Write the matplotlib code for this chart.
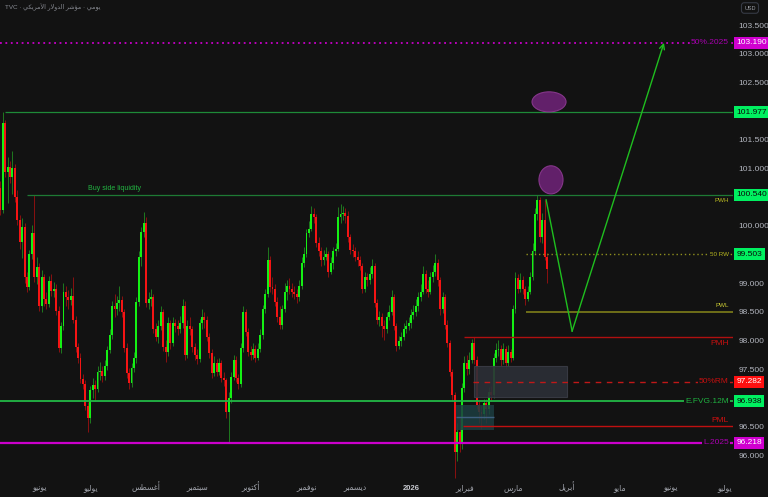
import numpy as np
import pandas as pd
import matplotlib
matplotlib.use("Agg")
import matplotlib.pyplot as plt
from matplotlib.patches import Rectangle, Ellipse
from matplotlib.transforms import blended_transform_factory

plt.rcParams['font.family'] = ['Liberation Sans', 'DejaVu Sans']

# ---- daily DXY candles, first bar = 2025-05-09 ----
first_open = 100.66
closes = [
    100.27, 101.79, 100.94, 101.03, 100.85, 101.00, 100.50, 100.10, 99.72, 99.98,
    99.10, 98.93, 99.50, 99.88, 99.10, 99.28, 98.60, 99.10, 98.72, 98.64,
    99.04, 98.86, 98.90, 98.52, 97.87, 98.25, 98.85, 98.75, 98.70, 98.78,
    98.35, 97.88, 97.70, 97.32, 97.23, 96.85, 96.65, 97.13, 97.22, 97.15,
    97.45, 97.47, 97.38, 97.55, 97.83, 98.09, 98.60, 98.55, 98.65, 98.70,
    98.50, 97.87, 97.43, 97.26, 97.52, 97.69, 98.67, 99.45, 99.89, 100.05,
    98.65, 98.72, 98.75, 98.20, 98.06, 98.25, 98.50, 97.88, 97.80, 98.30,
    97.95, 98.30, 98.25, 98.20, 98.30, 98.60, 97.75, 98.25, 98.20, 97.88,
    97.75, 97.68, 98.30, 98.40, 98.35, 98.05, 97.78, 97.43, 97.60, 97.45,
    97.60, 97.35, 97.30, 96.75, 97.00, 97.36, 97.65, 97.35, 97.23, 97.87,
    98.50, 98.15, 97.80, 97.75, 97.85, 97.70, 97.85, 98.10, 98.55, 98.80,
    99.40, 98.93, 98.90, 98.67, 98.40, 98.27, 98.55, 98.85, 98.95, 98.90,
    98.85, 98.80, 98.75, 98.95, 99.35, 99.50, 99.87, 99.95, 100.20, 100.15,
    99.70, 99.55, 99.40, 99.45, 99.50, 99.20, 99.35, 99.55, 99.60, 100.15,
    100.20, 100.22, 100.17, 99.80, 99.58, 99.55, 99.45, 99.40, 99.30, 98.90,
    99.10, 99.05, 99.15, 99.30, 98.65, 98.35, 98.40, 98.25, 98.20, 98.40,
    98.50, 98.75, 98.25, 97.90, 97.98, 98.06, 98.20, 98.25, 98.30, 98.45,
    98.50, 98.60, 98.75, 98.85, 99.15, 98.90, 98.85, 99.10, 99.20, 99.35,
    99.05, 98.55, 98.75, 98.27, 97.95, 97.45, 97.05, 96.05, 96.40, 96.20,
    97.17, 97.60, 97.50, 97.66, 97.95, 97.66, 96.87, 96.75, 96.72, 96.90,
    96.80, 97.10, 97.05, 97.70, 97.83, 97.85, 97.65, 97.85, 97.60, 97.80,
    97.70, 98.55, 99.08, 98.90, 99.05, 98.90, 98.72, 98.85, 99.10, 99.55,
    100.20, 100.45, 99.80, 100.10, 99.45, 99.25,
]
highs = [
    100.78, 101.98, 101.85, 101.20, 101.12, 101.30, 101.08, 100.62, 100.18, 100.13,
    100.05, 99.20, 99.58, 100.02, 100.54, 99.45, 99.35, 99.22, 99.15, 98.85,
    99.12, 99.15, 99.02, 98.98, 98.60, 98.32, 99.00, 98.95, 98.88, 98.92,
    99.10, 98.42, 97.95, 97.78, 97.42, 97.30, 96.92, 97.20, 97.35, 97.30,
    97.55, 97.62, 97.55, 97.65, 97.90, 98.20, 98.68, 98.80, 98.78, 98.95,
    98.78, 98.55, 97.95, 97.52, 97.60, 97.80, 98.75, 99.55, 99.98, 100.24,
    100.15, 98.85, 98.90, 98.80, 98.30, 98.35, 98.60, 98.55, 98.00, 98.40,
    98.35, 98.40, 98.38, 98.35, 98.42, 98.72, 98.68, 98.35, 98.40, 98.25,
    97.95, 97.85, 98.38, 98.55, 98.50, 98.42, 98.12, 97.85, 97.72, 97.68,
    97.70, 97.65, 97.45, 97.35, 97.10, 97.45, 97.75, 97.72, 97.42, 97.95,
    98.60, 98.55, 98.22, 97.90, 97.95, 97.92, 97.95, 98.20, 98.62, 98.90,
    99.62, 99.48, 99.10, 98.98, 98.75, 98.60, 98.62, 99.00, 99.05, 99.08,
    99.00, 98.95, 98.90, 99.05, 99.45, 99.62, 99.95, 100.08, 100.35, 100.30,
    100.20, 99.80, 99.62, 99.58, 99.62, 99.55, 99.45, 99.62, 99.70, 100.32,
    100.38, 100.35, 100.30, 100.25, 99.85, 99.68, 99.62, 99.55, 99.48, 99.35,
    99.20, 99.18, 99.28, 99.42, 99.35, 98.72, 98.52, 98.48, 98.35, 98.50,
    98.62, 98.88, 98.80, 98.30, 98.08, 98.15, 98.30, 98.35, 98.40, 98.55,
    98.62, 98.72, 98.85, 98.98, 99.30, 99.22, 99.05, 99.20, 99.32, 99.50,
    99.42, 99.10, 98.85, 98.80, 98.35, 98.00, 97.50, 97.10, 96.55, 96.65,
    97.25, 97.72, 97.75, 97.80, 98.02, 98.05, 97.72, 96.95, 96.85, 96.98,
    96.98, 97.18, 97.20, 97.78, 97.95, 98.00, 97.92, 97.95, 97.90, 97.92,
    97.85, 98.62, 99.20, 99.15, 99.18, 99.12, 98.95, 98.95, 99.20, 99.70,
    100.30, 100.54, 100.50, 100.22, 100.45, 99.52,
]
lows = [
    100.18, 100.22, 100.85, 100.40, 100.74, 100.55, 100.42, 100.02, 99.60, 99.44,
    99.00, 98.85, 98.88, 99.42, 99.02, 98.98, 98.52, 98.50, 98.60, 98.55,
    98.58, 98.78, 98.75, 98.45, 97.80, 97.78, 98.18, 98.60, 98.55, 98.62,
    98.30, 97.80, 97.60, 97.25, 97.15, 96.78, 96.40, 96.55, 97.00, 96.95,
    97.10, 97.30, 97.28, 97.30, 97.48, 97.78, 98.02, 98.40, 98.45, 98.52,
    98.40, 97.80, 97.35, 97.15, 97.18, 97.45, 97.60, 98.60, 99.30, 99.80,
    98.58, 98.55, 98.60, 98.12, 97.98, 97.95, 98.18, 97.82, 97.62, 97.72,
    97.85, 97.90, 98.15, 98.10, 98.12, 98.22, 97.65, 97.70, 98.10, 97.80,
    97.65, 97.58, 97.62, 98.20, 98.22, 97.98, 97.70, 97.35, 97.38, 97.38,
    97.40, 97.28, 97.20, 96.65, 96.22, 96.90, 97.30, 97.28, 97.15, 97.18,
    97.80, 98.08, 97.72, 97.65, 97.68, 97.62, 97.65, 97.80, 98.02, 98.48,
    98.75, 98.85, 98.80, 98.60, 98.32, 98.20, 98.20, 98.50, 98.70, 98.80,
    98.75, 98.72, 98.65, 98.68, 98.90, 99.28, 99.45, 99.80, 99.90, 100.05,
    99.62, 99.48, 99.30, 99.32, 99.40, 99.10, 99.15, 99.25, 99.48, 99.55,
    100.05, 100.10, 100.05, 99.72, 99.50, 99.45, 99.38, 99.30, 99.22, 98.82,
    98.85, 98.95, 98.98, 99.08, 98.58, 98.28, 98.25, 98.05, 98.00, 98.12,
    98.35, 98.45, 98.18, 97.82, 97.85, 97.90, 98.00, 98.12, 98.18, 98.22,
    98.38, 98.42, 98.52, 98.68, 98.80, 98.82, 98.75, 98.80, 99.02, 99.12,
    98.95, 98.45, 98.48, 98.20, 97.88, 97.38, 96.95, 95.60, 95.90, 96.05,
    96.10, 97.10, 97.40, 97.42, 97.60, 97.58, 96.80, 96.55, 96.45, 96.62,
    96.55, 96.72, 96.95, 97.00, 97.62, 97.72, 97.55, 97.58, 97.50, 97.55,
    97.62, 97.65, 98.48, 98.82, 98.85, 98.80, 98.62, 98.68, 98.80, 99.05,
    99.50, 100.10, 99.72, 99.70, 99.40, 99.00,
]

# key levels
levels_price = [103.190, 101.977, 100.540, 99.503, 98.50, 98.05, 97.282, 96.938, 96.50, 96.218]
levels_label = ["50%.2025", "", "PWH", "50 RW", "PWL", "PMH", "50%RM", "E.FVG.12M", "PML", "L.2025"]
badge_prices = [103.190, 101.977, 100.540, 99.503, 97.282, 96.938, 96.218]

month_names = {2: "فبراير", 3: "مارس", 4: "أبريل", 5: "مايو", 6: "يونيو",
               7: "يوليو", 8: "أغسطس", 9: "سبتمبر", 10: "أكتوبر", 11: "نوفمبر", 12: "ديسمبر"}

# projected path of the trade idea (bar index, price)
plan_x = [224.6, 235.3, 273.1]
plan_y = [100.45, 98.16, 103.19]

# ---- tiny arabic shaper (matplotlib has no shaping) ----
FORMS = {
    'ا': ('\uFE8D', '\uFE8E', None, None), 'أ': ('\uFE83', '\uFE84', None, None),
    'ؤ': ('\uFE85', '\uFE86', None, None), 'د': ('\uFEA9', '\uFEAA', None, None),
    'ر': ('\uFEAD', '\uFEAE', None, None), 'و': ('\uFEED', '\uFEEE', None, None),
    'ب': ('\uFE8F', '\uFE90', '\uFE91', '\uFE92'), 'ت': ('\uFE95', '\uFE96', '\uFE97', '\uFE98'),
    'س': ('\uFEB1', '\uFEB2', '\uFEB3', '\uFEB4'), 'ش': ('\uFEB5', '\uFEB6', '\uFEB7', '\uFEB8'),
    'ط': ('\uFEC1', '\uFEC2', '\uFEC3', '\uFEC4'), 'غ': ('\uFECD', '\uFECE', '\uFECF', '\uFED0'),
    'ف': ('\uFED1', '\uFED2', '\uFED3', '\uFED4'), 'ك': ('\uFED9', '\uFEDA', '\uFEDB', '\uFEDC'),
    'ل': ('\uFEDD', '\uFEDE', '\uFEDF', '\uFEE0'), 'م': ('\uFEE1', '\uFEE2', '\uFEE3', '\uFEE4'),
    'ن': ('\uFEE5', '\uFEE6', '\uFEE7', '\uFEE8'), 'ي': ('\uFEF1', '\uFEF2', '\uFEF3', '\uFEF4'),
}
LAM_ALEF = {'ا': ('\uFEFB', '\uFEFC'), 'أ': ('\uFEF7', '\uFEF8')}


def shape(text):
    out = []
    prev = False
    i = 0
    while i < len(text):
        ch = text[i]
        if ch not in FORMS:
            out.append(ch)
            prev = False
            i += 1
            continue
        if ch == 'ل' and i + 1 < len(text) and text[i + 1] in LAM_ALEF:
            iso, fin = LAM_ALEF[text[i + 1]]
            out.append(fin if prev else iso)
            prev = False
            i += 2
            continue
        iso, fin, ini, med = FORMS[ch]
        nxt = text[i + 1] if i + 1 < len(text) else ''
        fwd = ini is not None and nxt in FORMS
        if prev and fwd:
            out.append(med)
        elif prev:
            out.append(fin)
        elif fwd:
            out.append(ini)
        else:
            out.append(iso)
        prev = ini is not None
        i += 1
    return ''.join(reversed(out))


# ---- figure ----
BG = '#121212'
fig = plt.figure(figsize=(7.68, 4.97), dpi=100, facecolor=BG)
ax = fig.add_axes([0, 17 / 497, 733 / 768, 480 / 497], facecolor=BG)

c = np.array(closes)
h = np.array(highs)
l = np.array(lows)
o = np.concatenate([[first_open], c[:-1]])
x = np.arange(len(c))
up = c >= o

ax.vlines(x[up], l[up], h[up], color='#1f7a1f', lw=0.7, zorder=2)
ax.vlines(x[~up], l[~up], h[~up], color='#8a1010', lw=0.7, zorder=2)
ax.bar(x, np.maximum(np.abs(c - o), 0.02), bottom=np.minimum(o, c), width=0.8,
       color=np.where(up, '#14f014', '#f51414'), lw=0, zorder=3)

XMAX = 301.5
ax.set_xlim(-0.12, XMAX)
ax.set_ylim(95.564, 103.937)

# boxes
ax.add_patch(Rectangle((195, 97.01), 38.2, 0.54, fc='#2c2f37', ec='#3a3d46', lw=0.8, alpha=0.9, zorder=4))
ax.add_patch(Rectangle((187.5, 96.44), 15.7, 0.43, fc='#1c3d40', ec='none', alpha=0.85, zorder=4))
ax.hlines(96.67, 187.5, 203.2, color='#3e5f7e', lw=1, zorder=4)

# level lines
ax.hlines(103.19, 0, XMAX, color='#c800c8', lw=1.3, linestyles=(0, (1, 2)), zorder=5)
ax.hlines(101.977, 2, XMAX, color='#1e8a38', lw=0.9, zorder=5)
ax.hlines(100.54, 11, XMAX, color='#1e7a34', lw=0.9, zorder=5)
ax.hlines(99.503, 216.3, XMAX, color='#8f8f1e', lw=1.0, linestyles=(0, (1, 2)), zorder=5)
ax.hlines(98.50, 216.3, XMAX, color='#7f7f1a', lw=1.2, zorder=5)
ax.hlines(98.05, 190.8, XMAX, color='#b01010', lw=1.0, zorder=5)
ax.hlines(97.282, 194.5, XMAX, color='#c01818', lw=1.0, linestyles=(0, (4, 4)), zorder=5)
ax.hlines(96.938, 0, XMAX, color='#22b845', lw=1.3, zorder=5)
ax.hlines(96.50, 190.4, XMAX, color='#c01010', lw=1.0, zorder=5)
ax.hlines(96.218, 0, XMAX, color='#cc00cc', lw=1.6, zorder=5)

ax.text(47, 100.58, "Buy side liquidity", color='#22b542', fontsize=5, ha='center', va='bottom', zorder=6)

# level labels at right end of the pane
lab_col = ['#a800b0', None, '#b8b820', '#b8b820', '#c8c832', '#c41010',
           '#c41010', '#1fb040', '#d01010', '#a800b0']
lab_dy = [0, 0, -0.1, 0, 0.1, -0.1, 0, 0, 0.1, 0]
tr = blended_transform_factory(ax.transAxes, ax.transData)
for p, t, col, dy in zip(levels_price, levels_label, lab_col, lab_dy):
    if not t:
        continue
    fs = 4.5 if t in ("PWH", "50 RW", "PWL") else 6
    bb = dict(boxstyle='square,pad=0.15', fc=BG, ec='none') if dy == 0 else None
    ax.text(0.9945, p + dy, t, transform=tr, color=col, fontsize=fs, ha='right', va='center',
            bbox=bb, zorder=7)

# ellipses
ax.add_patch(Ellipse((225.8, 102.16), 14, 0.35, fc='#62206a', ec='#85368a', lw=0.8, zorder=6))
ax.add_patch(Ellipse((226.6, 100.80), 9.9, 0.49, fc='#62206a', ec='#85368a', lw=0.8, zorder=6))

# plan path
ax.plot(plan_x[:2], plan_y[:2], color='#1fbf1f', lw=1, zorder=6)
ax.annotate('', xy=(plan_x[2], plan_y[2]), xytext=(plan_x[1], plan_y[1]),
            arrowprops=dict(arrowstyle='->', color='#1fbf1f', lw=1, shrinkA=0, shrinkB=0,
                            mutation_scale=9), zorder=6)

# price scale (labels hidden where a price badge sits on top of them)
ticks = np.arange(96.0, 103.51, 0.5)
ax.yaxis.tick_right()
ax.set_yticks(ticks)
ax.set_yticklabels(["" if min(abs(t - b) for b in badge_prices) < 0.1 else f"{t:.3f}" for t in ticks])
ax.tick_params(axis='y', length=0, pad=4, labelsize=6, labelcolor='#b2b5be')

badge_fc = ['#d000d0', '#00f060', '#00f060', '#00f060', '#ff1010', '#00f060', '#d000d0']
badge_tc = ['white', '#0a0a0a', '#0a0a0a', '#0a0a0a', 'white', '#0a0a0a', 'white']
for p, fc, tc in zip(badge_prices, badge_fc, badge_tc):
    ax.text(1.0045, p, f"{p:.3f}", transform=tr, ha='left', va='center', fontsize=6,
            color=tc, bbox=dict(boxstyle='square,pad=0.3', fc=fc, ec='none'), zorder=8, clip_on=False)

# time scale: first business day of each month
dates = pd.bdate_range('2025-05-09', '2026-07-31')
months = pd.date_range('2025-06-01', '2026-07-01', freq='MS')
tick_pos = [int(np.searchsorted(dates, m)) for m in months]
tick_lab = [shape(month_names[m.month]) if m.month != 1 else str(m.year) for m in months]
ax.set_xticks(tick_pos)
ax.set_xticklabels(tick_lab)
ax.tick_params(axis='x', length=0, pad=7.5, labelsize=5.5, labelcolor='#a0a3ab')
for t in ax.get_xticklabels():
    t.set_verticalalignment('baseline')
    if t.get_text() == "2026":
        t.set_fontweight('bold')
        t.set_color('#c8cad0')

for s in ax.spines.values():
    s.set_visible(False)

# header
fig.text(5 / 768, 1 - 7 / 497, "TVC · " + shape("مؤشر الدولار الأمريكي") + " · " + shape("يومي"),
         color='#8a8d95', fontsize=4.5, va='center', ha='left')
fig.text(750 / 768, 1 - 8 / 497, "USD", color='#9a9da5', fontsize=4, ha='center', va='center',
         bbox=dict(boxstyle='round,pad=0.5', fc=BG, ec='#363a45', lw=0.8))

fig.savefig('out.png', dpi=100, facecolor=BG)
